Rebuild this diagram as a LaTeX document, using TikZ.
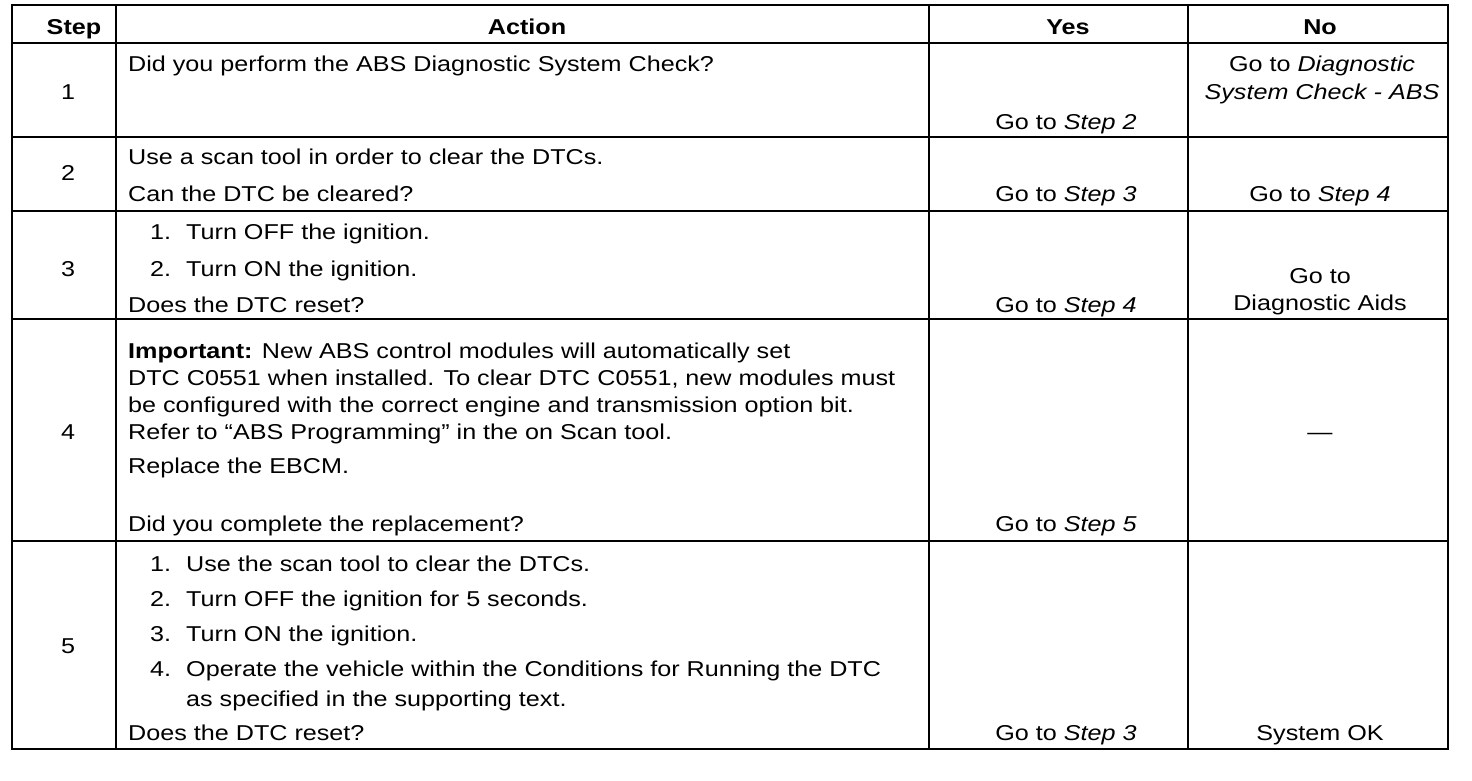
\documentclass[tikz,border=0pt]{standalone}
\usepackage{fontspec}
\setmainfont[FakeStretch=1.17]{Liberation Sans}
\usepackage{tikz}

\begin{document}
\begin{tikzpicture}[x=1pt,y=-1pt]
      \tikzstyle{cell}=[anchor=base west,inner sep=0pt]
      \tikzstyle{mid}=[anchor=base,inner sep=0pt,align=center]
      \tikzstyle{head}=[mid,font=\bfseries]
      \tikzstyle{rule}=[line width=2.6pt]
      \useasboundingbox (0,0) rectangle (1472,780);
      \fontsize{21.5}{27}\selectfont
      % grid
      \draw[rule](12,5) rectangle (1448,749);
      \foreach \x in {116,929,1188} \draw[rule](\x,5)--(\x,749);
      \foreach \y in {43,137,211,319,541} \draw[rule](12,\y)--(1448,\y);
      % header
      \node[head](hstep) at (74,34){Step};
      \node[head](hact) at (527,34){Action};
      \node[head](hyes) at (1068,34){Yes};
      \node[head](hno) at (1320,34){No};
      % step 1
      \node[mid](s1) at (68,99){1};
      \node[cell](a1) at (128,71){Did you perform the ABS Diagnostic System Check?};
      \node[mid](y1) at (1066,129){Go to \textit{Step 2}};
      \node[mid](n1a) at (1322,71){Go to \textit{Diagnostic}};
      \node[mid](n1b) at (1322,99){\textit{System Check - ABS}};
      % step 2
      \node[mid](s2) at (68,180){2};
      \node[cell](a2a) at (128,164){Use a scan tool in order to clear the DTCs.};
      \node[cell](a2b) at (128,201){Can the DTC be cleared?};
      \node[mid](y2) at (1066,201){Go to \textit{Step 3}};
      \node[mid](n2) at (1320,201){Go to \textit{Step 4}};
      % step 3
      \node[mid](s3) at (68,276){3};
      \node[cell](a3n1) at (150,239){1.};
      \node[cell](a3a) at (186,239){Turn OFF the ignition.};
      \node[cell](a3n2) at (150,276){2.};
      \node[cell](a3b) at (186,276){Turn ON the ignition.};
      \node[cell](a3c) at (128,312){Does the DTC reset?};
      \node[mid](y3) at (1066,312){Go to \textit{Step 4}};
      \node[mid](n3a) at (1320,283){Go to};
      \node[mid](n3b) at (1320,310){Diagnostic Aids};
      % step 4
      \node[mid](s4) at (68,439){4};
      \node[cell](a4a) at (128,358){\textbf{Important:} New ABS control modules will automatically set};
      \node[cell](a4b) at (128,385){DTC C0551 when installed. To clear DTC C0551, new modules must};
      \node[cell](a4c) at (128,412){be configured with the correct engine and transmission option bit.};
      \node[cell](a4d) at (128,439){Refer to “ABS Programming” in the on Scan tool.};
      \node[cell](a4e) at (128,473){Replace the EBCM.};
      \node[cell](a4f) at (128,531){Did you complete the replacement?};
      \node[mid](y4) at (1066,531){Go to \textit{Step 5}};
      \node[mid](n4) at (1320,439){—};
      % step 5
      \node[mid](s5) at (68,653){5};
      \node[cell](a5n1) at (150,571){1.};
      \node[cell](a5a) at (186,571){Use the scan tool to clear the DTCs.};
      \node[cell](a5n2) at (150,606){2.};
      \node[cell](a5b) at (186,606){Turn OFF the ignition for 5 seconds.};
      \node[cell](a5n3) at (150,641){3.};
      \node[cell](a5c) at (186,641){Turn ON the ignition.};
      \node[cell](a5n4) at (150,676){4.};
      \node[cell](a5d) at (186,676){Operate the vehicle within the Conditions for Running the DTC};
      \node[cell](a5e) at (186,706){as specified in the supporting text.};
      \node[cell](a5f) at (128,740){Does the DTC reset?};
      \node[mid](y5) at (1066,740){Go to \textit{Step 3}};
      \node[mid](n5) at (1320,740){System OK};
\end{tikzpicture}
\end{document}
